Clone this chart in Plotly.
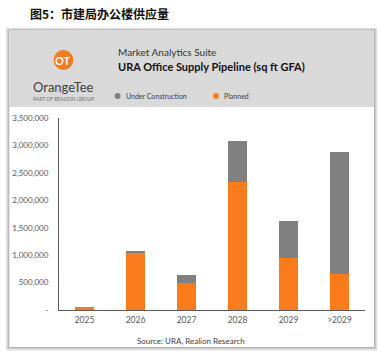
import plotly.graph_objects as go

categories = ["2025", "2026", "2027", "2028", "2029", ">2029"]
planned = [62000, 1040000, 500000, 2335000, 955000, 665000]
under_construction = [0, 25000, 140000, 745000, 675000, 2210000]
y_tickvals = [0, 500000, 1000000, 1500000, 2000000, 2500000, 3000000, 3500000]
y_ticktext = ["-", "500,000", "1,000,000", "1,500,000", "2,000,000", "2,500,000", "3,000,000", "3,500,000"]

W, H = 381, 354
L, R, T, B = 57, 16, 118, 44
PW, PH = W - L - R, H - T - B

def px(x):
    return (x - L) / PW

def py(y):
    return (H - B - y) / PH

ORANGE = "#FA7B1C"
GRAY = "#808080"
FONT = "Lato, 'Open Sans', sans-serif"

fig = go.Figure()
fig.add_trace(go.Bar(x=categories, y=planned, name="Planned", marker_color=ORANGE,
                     marker_line_width=0))
fig.add_trace(go.Bar(x=categories, y=under_construction, name="Under Construction",
                     marker_color=GRAY, marker_line_width=0))

shapes = []
# card shadow
for i, op in enumerate([0.05, 0.07, 0.09, 0.12]):
    d = 4 - i
    shapes.append(dict(type="rect", xref="paper", yref="paper",
                       x0=px(7 - d), x1=px(374 + d), y0=py(347 + d), y1=py(30 - d * 0.6),
                       fillcolor="rgba(0,0,0,%s)" % op, line_width=0, layer="below"))
# card body
shapes.append(dict(type="rect", xref="paper", yref="paper", x0=px(7), x1=px(374),
                   y0=py(347), y1=py(30), fillcolor="white", line_width=0, layer="below"))
# header
shapes.append(dict(type="rect", xref="paper", yref="paper", x0=px(7), x1=px(374),
                   y0=py(107), y1=py(30), fillcolor="#D9D9D9", line_width=0, layer="below"))
# logo circle
shapes.append(dict(type="circle", xref="paper", yref="paper", x0=px(51.5), x1=px(71.5),
                   y0=py(70), y1=py(50), fillcolor="#F47B20", line_width=0))
# legend dots
shapes.append(dict(type="circle", xref="paper", yref="paper", x0=px(113), x1=px(119),
                   y0=py(99), y1=py(93), fillcolor=GRAY, line_width=0))
shapes.append(dict(type="circle", xref="paper", yref="paper", x0=px(212), x1=px(218),
                   y0=py(99), y1=py(93), fillcolor=ORANGE, line_width=0))

annotations = [
    dict(text="<b>图5：市建局办公楼供应量</b>", x=px(26), y=py(13), xanchor="left", yanchor="middle",
         font=dict(family="Noto Sans CJK SC", size=12, color="#111111")),
    dict(text="<b>OT</b>", x=px(61.5), y=py(60), xanchor="center", yanchor="middle",
         font=dict(family=FONT, size=11, color="white")),
    dict(text="OrangeTee", x=px(62), y=py(87), xanchor="center", yanchor="middle",
         font=dict(family=FONT, size=13, color="#404040")),
    dict(text="PART OF REALION GROUP", x=px(62), y=py(99.5), xanchor="center", yanchor="middle",
         font=dict(family=FONT, size=5, color="#707070")),
    dict(text="Market Analytics Suite", x=px(114), y=py(52), xanchor="left", yanchor="middle",
         font=dict(family=FONT, size=10, color="#333333")),
    dict(text="<b>URA Office Supply Pipeline (sq ft GFA)</b>", x=px(114), y=py(66),
         xanchor="left", yanchor="middle", font=dict(family=FONT, size=11, color="#111111")),
    dict(text="Under Construction", x=px(122), y=py(96), xanchor="left", yanchor="middle",
         font=dict(family=FONT, size=7, color="#404040")),
    dict(text="Planned", x=px(221), y=py(96), xanchor="left", yanchor="middle",
         font=dict(family=FONT, size=7, color="#404040")),
    dict(text="Source: URA, Realion Research", x=px(190), y=py(341), xanchor="center",
         yanchor="middle", font=dict(family=FONT, size=8, color="#404040")),
]
for a in annotations:
    a.update(xref="paper", yref="paper", showarrow=False)

fig.update_layout(
    width=W, height=H, margin=dict(l=L, r=R, t=T, b=B),
    barmode="stack", bargap=0.61, showlegend=False,
    paper_bgcolor="white", plot_bgcolor="rgba(0,0,0,0)",
    shapes=shapes, annotations=annotations,
    font=dict(family=FONT, color="#595959"),
)
fig.update_xaxes(showline=True, linecolor="#595959", linewidth=1, showgrid=False,
                 ticks="", tickfont=dict(size=8.5, color="#595959"), ticklabelstandoff=2)
fig.update_yaxes(range=[0, 3500000], showline=True, linecolor="#595959", linewidth=1,
                 showgrid=False, zeroline=False, tickvals=y_tickvals, ticktext=y_ticktext,
                 tickfont=dict(size=8, color="#595959"), ticklabelstandoff=8)

fig.write_html("out.html")
